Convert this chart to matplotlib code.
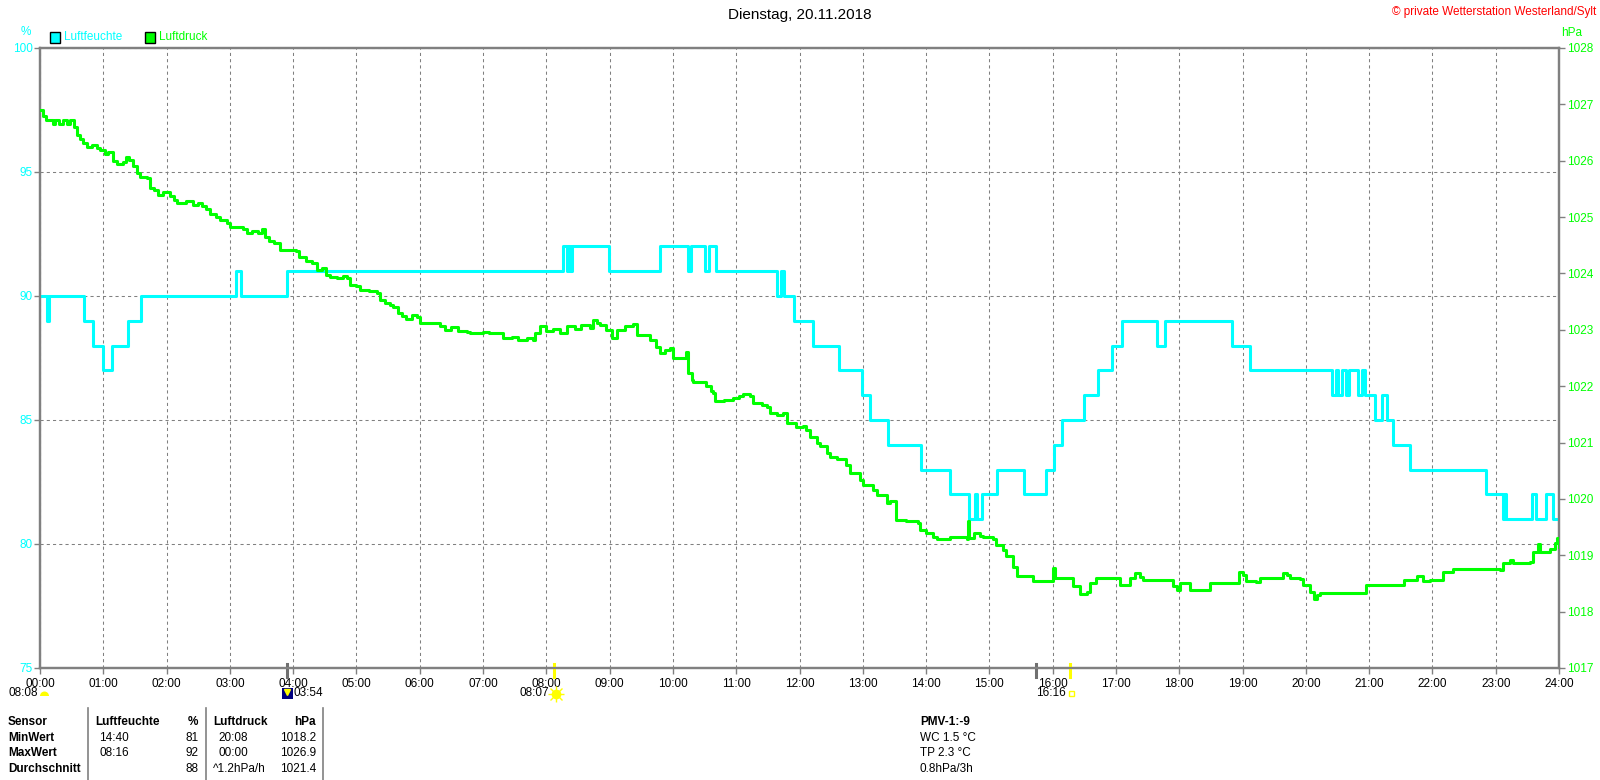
import matplotlib.pyplot as plt
from matplotlib.patches import Rectangle, Wedge
from matplotlib.lines import Line2D

plt.rcParams['font.family'] = ['Liberation Sans', 'DejaVu Sans']

# Luftfeuchte in %: Zeitpunkt (Stunden) ab dem der Wert gilt
hum_t = [0.00, 0.105, 0.14, 0.695, 0.84, 1.00, 1.13, 1.385, 1.59, 3.10, 3.17, 3.91,
         8.26, 8.32, 8.35, 8.38, 8.41, 8.99, 9.79, 10.24, 10.28, 10.51, 10.57, 10.68,
         11.65, 11.71, 11.76, 11.92, 12.22, 12.62, 12.99, 13.11, 13.40, 13.92, 14.38,
         14.68, 14.77, 14.80, 14.89, 15.12, 15.55, 15.90, 16.02, 16.14, 16.49, 16.72,
         16.93, 17.10, 17.65, 17.78, 18.84, 19.11, 20.41, 20.47, 20.51, 20.57, 20.64,
         20.68, 20.83, 20.88, 20.93, 21.09, 21.21, 21.29, 21.38, 21.65, 22.85, 23.11,
         23.14, 23.17, 23.57, 23.64, 23.79, 23.90, 24.00]
hum_v = [90, 89, 90, 89, 88, 87, 88, 89, 90, 91, 90, 91,
         92, 91, 92, 91, 92, 91, 92, 91, 92, 91, 92, 91,
         90, 91, 90, 89, 88, 87, 86, 85, 84, 83, 82,
         81, 82, 81, 82, 83, 82, 83, 84, 85, 86, 87,
         88, 89, 88, 89, 88, 87, 86, 87, 86, 87, 86,
         87, 86, 87, 86, 85, 86, 85, 84, 83, 82, 81,
         82, 81, 82, 81, 82, 81, 81]

# Luftdruck in hPa
druck_t = [0.00, 0.04, 0.10, 0.20, 0.24, 0.30, 0.36, 0.42, 0.48, 0.53, 0.58, 0.63, 0.68,
           0.74, 0.82, 0.90, 0.95, 1.02, 1.08, 1.15, 1.22, 1.31, 1.36, 1.40, 1.47, 1.53,
           1.58, 1.69, 1.74, 1.80, 1.87, 1.95, 2.05, 2.12, 2.16, 2.30, 2.42, 2.50, 2.56,
           2.63, 2.69, 2.78, 2.85, 2.95, 3.00, 3.20, 3.27, 3.35, 3.45, 3.50, 3.55, 3.62,
           3.70, 3.79, 4.05, 4.10, 4.20, 4.30, 4.37, 4.45, 4.52, 4.58, 4.69, 4.78, 4.85,
           4.90, 5.00, 5.06, 5.20, 5.32, 5.37, 5.45, 5.53, 5.58, 5.65, 5.72, 5.79, 5.88,
           5.95, 6.00, 6.27, 6.32, 6.40, 6.50, 6.60, 6.74, 6.79, 7.00, 7.10, 7.27, 7.32,
           7.45, 7.55, 7.70, 7.79, 7.82, 7.90, 8.00, 8.10, 8.21, 8.32, 8.45, 8.55, 8.69,
           8.74, 8.80, 8.85, 8.95, 9.03, 9.11, 9.25, 9.37, 9.43, 9.58, 9.64, 9.74, 9.79,
           9.88, 9.95, 10.00, 10.16, 10.20, 10.24, 10.30, 10.32, 10.47, 10.53, 10.60,
           10.64, 10.66, 10.80, 10.95, 11.05, 11.10, 11.22, 11.27, 11.40, 11.48, 11.53,
           11.65, 11.74, 11.80, 11.95, 12.06, 12.11, 12.16, 12.27, 12.32, 12.43, 12.48,
           12.60, 12.74, 12.80, 12.95, 13.00, 13.16, 13.22, 13.38, 13.43, 13.48, 13.53,
           13.69, 13.88, 13.90, 14.00, 14.11, 14.17, 14.32, 14.38, 14.59, 14.64, 14.66,
           14.68, 14.75, 14.85, 14.90, 15.06, 15.11, 15.22, 15.27, 15.38, 15.43, 15.64,
           15.69, 15.96, 16.00, 16.03, 16.27, 16.32, 16.43, 16.54, 16.59, 16.69, 17.01,
           17.06, 17.17, 17.22, 17.30, 17.38, 17.43, 17.85, 17.90, 17.96, 18.01, 18.11,
           18.17, 18.43, 18.48, 18.90, 18.95, 19.01, 19.06, 19.22, 19.27, 19.59, 19.64,
           19.70, 19.75, 19.91, 19.95, 20.06, 20.13, 20.17, 20.22, 20.90, 20.95, 21.48,
           21.55, 21.75, 21.85, 21.96, 22.12, 22.17, 22.33, 23.07, 23.12, 23.22, 23.27,
           23.54, 23.59, 23.67, 23.70, 23.80, 23.86, 23.94, 23.97, 24.00]
druck_v = [1026.90, 1026.80, 1026.72, 1026.66, 1026.72, 1026.66, 1026.72, 1026.66, 1026.72,
           1026.60, 1026.45, 1026.38, 1026.31, 1026.25, 1026.28, 1026.22, 1026.19, 1026.12,
           1026.15, 1026.00, 1025.95, 1025.98, 1026.07, 1026.02, 1025.90, 1025.78, 1025.72,
           1025.69, 1025.52, 1025.48, 1025.40, 1025.45, 1025.38, 1025.30, 1025.25, 1025.28,
           1025.22, 1025.25, 1025.19, 1025.15, 1025.05, 1025.00, 1024.95, 1024.90, 1024.82,
           1024.78, 1024.71, 1024.76, 1024.71, 1024.78, 1024.65, 1024.58, 1024.54, 1024.42,
           1024.40, 1024.30, 1024.22, 1024.19, 1024.06, 1024.10, 1023.98, 1023.94, 1023.92,
           1023.95, 1023.92, 1023.80, 1023.78, 1023.71, 1023.68, 1023.66, 1023.53, 1023.48,
           1023.44, 1023.41, 1023.30, 1023.25, 1023.20, 1023.26, 1023.22, 1023.12, 1023.12,
           1023.06, 1023.00, 1023.05, 1022.98, 1022.97, 1022.94, 1022.97, 1022.94, 1022.94,
           1022.85, 1022.88, 1022.82, 1022.85, 1022.82, 1022.95, 1023.06, 1022.98, 1023.02,
           1022.95, 1023.06, 1023.02, 1023.08, 1023.04, 1023.18, 1023.12, 1023.09, 1023.00,
           1022.85, 1023.00, 1023.06, 1023.10, 1022.91, 1022.91, 1022.82, 1022.70, 1022.59,
           1022.65, 1022.68, 1022.50, 1022.50, 1022.60, 1022.23, 1022.11, 1022.08, 1022.08,
           1022.00, 1021.92, 1021.88, 1021.73, 1021.76, 1021.79, 1021.82, 1021.86, 1021.82,
           1021.70, 1021.66, 1021.63, 1021.52, 1021.48, 1021.52, 1021.35, 1021.28, 1021.29,
           1021.23, 1021.10, 1021.00, 1020.93, 1020.81, 1020.75, 1020.70, 1020.60, 1020.46,
           1020.34, 1020.25, 1020.16, 1020.07, 1019.93, 1019.96, 1019.96, 1019.63, 1019.60,
           1019.57, 1019.45, 1019.40, 1019.33, 1019.28, 1019.28, 1019.33, 1019.33, 1019.28,
           1019.60, 1019.30, 1019.40, 1019.35, 1019.33, 1019.28, 1019.19, 1019.10, 1018.98,
           1018.80, 1018.63, 1018.63, 1018.54, 1018.54, 1018.78, 1018.60, 1018.60, 1018.45,
           1018.32, 1018.35, 1018.51, 1018.60, 1018.60, 1018.48, 1018.48, 1018.60, 1018.69,
           1018.62, 1018.57, 1018.57, 1018.45, 1018.38, 1018.50, 1018.50, 1018.39, 1018.39,
           1018.50, 1018.50, 1018.71, 1018.65, 1018.55, 1018.52, 1018.60, 1018.60, 1018.69,
           1018.65, 1018.60, 1018.58, 1018.48, 1018.34, 1018.22, 1018.30, 1018.33, 1018.33,
           1018.48, 1018.48, 1018.57, 1018.63, 1018.55, 1018.57, 1018.57, 1018.71, 1018.75,
           1018.74, 1018.86, 1018.92, 1018.86, 1018.88, 1019.05, 1019.20, 1019.05, 1019.05,
           1019.12, 1019.22, 1019.30, 1019.15]

hours = list(range(25))
hour_labels = [f"{h:02d}:00" for h in hours]
hum_ticks = [75, 80, 85, 90, 95, 100]
druck_ticks = list(range(1017, 1029))

# Markierungen an der Zeitachse (Mond / Sonne)
event_t = [3.90, 8.117, 15.73, 16.267]
event_c = ['#707070', '#ffff00', '#707070', '#ffff00']

# Tabelle unten
tab_head = ["Sensor", "Luftfeuchte", "%", "Luftdruck", "hPa"]
tab_rows = [["MinWert", "14:40", "81", "20:08", "1018.2"],
            ["MaxWert", "08:16", "92", "00:00", "1026.9"],
            ["Durchschnitt", "", "88", "^1.2hPa/h", "1021.4"]]
pmv_lines = ["PMV-1:-9", "WC 1.5 °C", "TP 2.3 °C", "0.8hPa/3h"]

CYAN = '#00ffff'
GREEN = '#00ff00'
GELB = '#ffff00'
GRAU = '#808080'
FS = 8.5


def fx(x):
    return x / 1600


def fy(y):
    return 1 - y / 780


fig = plt.figure(figsize=(16, 7.8), dpi=100)
ax = fig.add_axes([fx(40), fy(668), fx(1559) - fx(40), fy(48) - fy(668)])
ax2 = ax.twinx()

ax.plot(hum_t, hum_v, color=CYAN, lw=2.2, drawstyle='steps-post', zorder=3)
ax2.plot(druck_t, druck_v, color=GREEN, lw=2.2, drawstyle='steps-post', zorder=3)

ax.set_xlim(0, 24)
ax.set_ylim(75, 100)
ax2.set_ylim(1017, 1028)

ax.set_xticks(hours)
ax.set_xticklabels(hour_labels)
ax.set_yticks(hum_ticks)
ax2.set_yticks(druck_ticks)

ax.grid(True, color=GRAU, lw=0.75, ls=(0, (3, 3)))
ax.set_axisbelow(True)

for a in (ax, ax2):
    for s in a.spines.values():
        s.set_color(GRAU)
        s.set_linewidth(1.6)

ax.tick_params(axis='x', color=GRAU, labelcolor='black', length=4, width=1,
               pad=3, labelsize=FS)
ax.tick_params(axis='y', color=GRAU, labelcolor=CYAN, length=4, width=1,
               pad=1, labelsize=FS)
ax2.tick_params(axis='y', color=GRAU, labelcolor=GREEN, length=4, width=1,
                pad=2, labelsize=FS)

# Ereignis-Striche auf der Zeitachse
for t, c in zip(event_t, event_c):
    ax.plot([t, t], [-0.015, 0.007], color=c, lw=2.2,
            transform=ax.get_xaxis_transform(), clip_on=False, zorder=5)

# Kopfzeile
fig.text(0.5, fy(15), "Dienstag, 20.11.2018", ha='center', va='center', fontsize=11)
fig.text(fx(1596), fy(12), "© private Wetterstation Westerland/Sylt", ha='right',
         va='center', fontsize=FS, color='red')
fig.text(fx(26), fy(32), "%", ha='center', va='center', fontsize=FS, color=CYAN)
fig.text(fx(1561), fy(33), "hPa", ha='left', va='center', fontsize=FS, color=GREEN)

# Legende
for x0, col, name in [(50, CYAN, "Luftfeuchte"), (145, GREEN, "Luftdruck")]:
    fig.add_artist(Rectangle((fx(x0), fy(42.5)), fx(10), fy(32.5) - fy(42.5),
                             facecolor=col, edgecolor='black', lw=1,
                             transform=fig.transFigure))
    fig.text(fx(x0 + 14), fy(37.5), name, ha='left', va='center', fontsize=FS, color=col)

# Sonne / Mond unter der Zeitachse
fig.text(fx(38), fy(693), "08:08", ha='right', va='center', fontsize=FS)
fig.add_artist(Wedge((0.445, (780 - 696) / 100), 0.045, 0, 180, facecolor=GELB,
                     edgecolor='none', transform=fig.dpi_scale_trans))
fig.add_artist(Rectangle((2.82, (780 - 698.5) / 100), 0.11, 0.11, facecolor='#000080',
                         edgecolor='none', transform=fig.dpi_scale_trans))
fig.add_artist(Line2D([fx(286.5)], [fy(692)], marker='v', markersize=4, color=GELB,
                      linestyle='none'))
fig.text(fx(293), fy(693), "03:54", ha='left', va='center', fontsize=FS)
fig.text(fx(549), fy(693), "08:07", ha='right', va='center', fontsize=FS)
for m, ms in [('+', 11), ('x', 9), ('o', 6)]:
    fig.add_artist(Line2D([fx(555.5)], [fy(693.5)], marker=m, markersize=ms, color=GELB,
                          markeredgewidth=1, linestyle='none'))
fig.text(fx(1066), fy(693), "16:16", ha='right', va='center', fontsize=FS)
fig.add_artist(Rectangle((10.685, (780 - 696) / 100), 0.055, 0.055, facecolor='none',
                         edgecolor=GELB, lw=1, transform=fig.dpi_scale_trans))

# Tabelle
for xl in (88, 205.5, 323):
    fig.add_artist(Line2D([fx(xl), fx(xl)], [fy(708), fy(780)], color=GRAU, lw=1.2))

row_y = [722, 738, 753.5, 769.5]
col_x = [8, 95, 198.5, 213, 316]
col_ha = ['left', 'left', 'right', 'left', 'right']
for j, txt in enumerate(tab_head):
    fig.text(fx(col_x[j]), fy(row_y[0]), txt, ha=col_ha[j], va='center',
             fontsize=FS, fontweight='bold')
for i, row in enumerate(tab_rows):
    y = fy(row_y[i + 1])
    fig.text(fx(8), y, row[0], ha='left', va='center', fontsize=FS, fontweight='bold')
    fig.text(fx(99), y, row[1], ha='left', va='center', fontsize=FS)
    fig.text(fx(198.5), y, row[2], ha='right', va='center', fontsize=FS)
    x_d = 213 if row[3].startswith('^') else 218
    fig.text(fx(x_d), y, row[3], ha='left', va='center', fontsize=FS)
    fig.text(fx(316), y, row[4], ha='right', va='center', fontsize=FS)

for i, txt in enumerate(pmv_lines):
    fig.text(fx(920), fy(row_y[i]), txt, ha='left', va='center', fontsize=FS,
             fontweight='bold' if i == 0 else 'normal')

fig.savefig("out.png", dpi=100)
